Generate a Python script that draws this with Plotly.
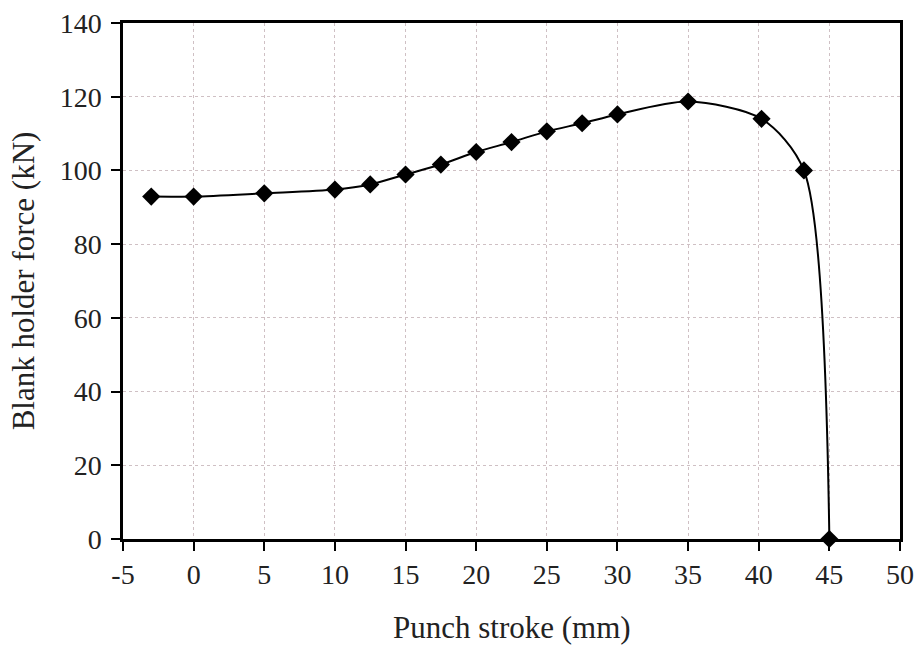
import plotly.graph_objects as go

stroke_mm = [-3, 0, 5, 10, 12.5, 15, 17.5, 20, 22.5, 25, 27.5, 30, 35, 40.2, 43.2, 45]
force_kN = [92.9, 92.9, 93.8, 94.8, 96.2, 98.9, 101.6, 105.0, 107.7, 110.6, 112.8, 115.2, 118.7, 114.0, 100.0, 0]

x_ticks = [-5, 0, 5, 10, 15, 20, 25, 30, 35, 40, 45, 50]
x_ticktext = ["-5", "0", "5", "10", "15", "20", "25", "30", "35", "40", "45", "50"]
y_ticks = [0, 20, 40, 60, 80, 100, 120, 140]

fig = go.Figure()
fig.add_trace(go.Scatter(
    x=stroke_mm, y=force_kN, mode="lines+markers",
    line=dict(color="black", width=2, shape="spline", smoothing=0.8),
    marker=dict(symbol="diamond", size=14, color="black"),
    cliponaxis=False, showlegend=False,
))

FAM = "Liberation Serif, Times New Roman, serif"
tickfont = dict(family=FAM, size=28, color="#222")
titlefont = dict(family=FAM, size=31, color="#222")
axis_common = dict(
    showline=True, linecolor="black", linewidth=2.5, mirror=True,
    ticks="outside", ticklen=9, tickwidth=2, tickcolor="black",
    showgrid=True, gridcolor="#cfc0c4", griddash="dot", gridwidth=1,
    zeroline=False, tickfont=tickfont, automargin=False,
    ticklabeloverflow="allow",
)
fig.update_layout(
    width=916, height=647,
    margin=dict(l=123, r=16, t=23, b=108),
    paper_bgcolor="white", plot_bgcolor="white",
    font=tickfont,
    xaxis=dict(range=[-5, 50], tickvals=x_ticks, ticktext=x_ticktext,
               ticklabelstandoff=0, **axis_common),
    yaxis=dict(range=[0, 140], tickvals=y_ticks, ticklabelstandoff=4,
               title=dict(text="Blank holder force (kN)", font=titlefont, standoff=16), **axis_common),
    annotations=[dict(
        text="Punch stroke (mm)", xref="paper", yref="paper", x=0.5, y=0,
        xanchor="center", yanchor="middle", yshift=-88, showarrow=False,
        font=titlefont,
    )],
)
fig.write_html(
    "out.html",
    config={"displayModeBar": False},
    post_script="document.body.style.margin='0';document.body.style.overflow='hidden';",
)
